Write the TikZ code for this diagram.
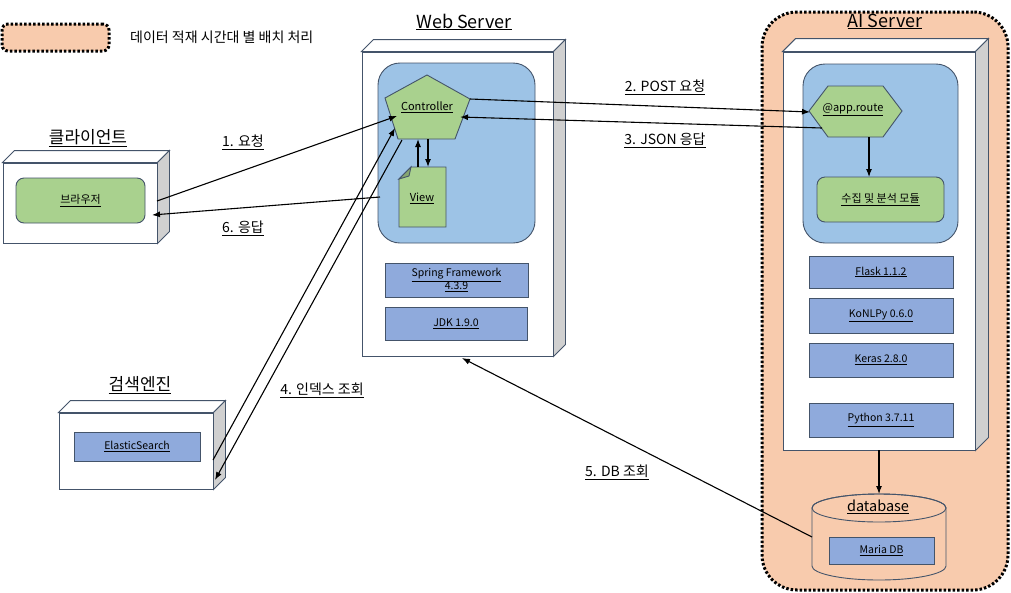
\documentclass[tikz,border=0pt]{standalone}
\usepackage{fontspec}
\setmainfont{Noto Sans CJK KR}
\usetikzlibrary{arrows.meta}
\definecolor{orng}{HTML}{F8CBAD}
\definecolor{lblue}{HTML}{9DC3E6}
\definecolor{lgreen}{HTML}{A9D18E}
\definecolor{cblue}{HTML}{8FAADC}
\definecolor{sgray}{HTML}{D0D0D0}
\definecolor{edgec}{HTML}{44546A}
\newcommand{\fsz}[1]{\fontsize{#1}{\dimexpr #1pt*6/5\relax}\selectfont}
\newcommand{\uln}[1]{\underline{#1}}
\newcommand{\cubefaces}[2]{%
  \draw[edgeline, fill=white] (#1.north west) -- ++(#2,-#2) -- ([shift={(#2,-#2)}]#1.north east) -- (#1.north east) -- cycle;
  \draw[edgeline, fill=sgray] (#1.north east) -- ++(#2,-#2) -- ([shift={(#2,-#2)}]#1.south east) -- (#1.south east) -- cycle;
}
\begin{document}
\begin{tikzpicture}[x=1pt,y=-1pt,
  edgeline/.style={draw=edgec, line width=0.9pt},
  front/.style={edgeline, fill=white, inner sep=0pt},
  region/.style={edgeline, fill=lblue, rounded corners=22pt, inner sep=0pt},
  gbox/.style={edgeline, fill=lgreen, rounded corners=8pt, inner sep=0pt, font=\fsz{11}},
  comp/.style={edgeline, fill=cblue, inner sep=0pt, font=\fsz{10.5}, align=center},
  conn/.style={line width=1.1pt, -{Latex[length=8pt,width=6pt]}},
  lbl/.style={font=\fsz{14}, inner sep=0pt},
  title/.style={font=\fsz{18}, inner sep=0pt, anchor=base},
  ktitle/.style={font=\fsz{17}, inner sep=0pt},
  frame/.style={draw=black, line width=3pt, dash pattern=on 2.5pt off 2pt, fill=orng}
]
\useasboundingbox (0,0) rectangle (1011,592);

% legend
\node[frame, rounded corners=6pt, minimum width=107pt, minimum height=27pt, inner sep=0pt] (leg) at (55.5,37.5) {};
\node[font=\fsz{14}, anchor=west, inner sep=0pt] (legt) at (130,37.5) {데이터 적재 시간대 별 배치 처리};

% AI server frame
\node[frame, rounded corners=35pt, minimum width=246pt, minimum height=578pt, inner sep=0pt] (aif) at (885,301) {};

% AI box
\node[front, minimum width=192pt, minimum height=398pt] (ai) at (879,251) {};
\cubefaces{ai}{13}
\node[title] (ait) at (885,27) {\uln{AI Server}};
\node[region, minimum width=155pt, minimum height=179pt] (aiin) at (880.5,153.5) {};
\draw[edgeline, fill=lgreen] (809,111) -- (828,86) -- (883,86) -- (902,111) -- (883,137) -- (828,137) -- cycle;
\node[font=\fsz{11}, inner sep=0pt] (hex) at (853,110) {\uln{@app.route}};
\node[gbox, minimum width=127pt, minimum height=45pt] (mod) at (880.5,199.5) {\uln{수집 및 분석 모듈}};
\node[comp, minimum width=144pt, minimum height=32pt] (flask) at (881,272) {\uln{Flask 1.1.2}};
\node[comp, minimum width=144pt, minimum height=35pt] (konl) at (881,315.5) {\uln{KoNLPy 0.6.0}};
\node[comp, minimum width=144pt, minimum height=34pt] (keras) at (881,360) {\uln{Keras 2.8.0}};
\node[comp, minimum width=144pt, minimum height=34pt] (py) at (881,420) {\uln{Python 3.7.11}};

% database
\draw[edgeline, fill=orng] (812,508) -- (812,566) arc[start angle=180, end angle=360, x radius=67pt, y radius=14pt] -- (946,508) arc[start angle=0, end angle=180, x radius=67pt, y radius=14pt] -- cycle;
\draw[edgeline] (879,508) ellipse[x radius=67pt, y radius=14pt];
\node[font=\fsz{14.5}, inner sep=0pt] (db) at (878,507) {\uln{database}};
\node[comp, minimum width=105pt, minimum height=27pt] (maria) at (881.5,550.5) {\uln{Maria DB}};
\coordinate (dbT) at (879,494);
\coordinate (dbL) at (812,537);

% Web server
\node[front, minimum width=191pt, minimum height=304pt] (ws) at (457.5,204) {};
\cubefaces{ws}{12}
\node[title] (wst) at (464,28) {\uln{Web Server}};
\node[region, minimum width=157pt, minimum height=180pt] (wsin) at (456.5,153) {};
\draw[edgeline, fill=lgreen] (427,75) -- (470,99) -- (455,139) -- (398,139) -- (385,98) -- cycle;
\node[font=\fsz{11}, inner sep=0pt] (ctrl) at (427,107) {\uln{Controller}};
\draw[edgeline, fill=lgreen] (411,167) -- (446,167) -- (446,227) -- (399,227) -- (399,179) -- cycle;
\draw[edgeline, fill=lgreen!80!black] (399,179) -- (409,176) -- (411,167) -- cycle;
\node[font=\fsz{11}, inner sep=0pt] (view) at (422,198) {\uln{View}};
\node[comp, minimum width=143pt, minimum height=34pt] (spring) at (456.5,280) {\uln{Spring Framework}\\\uln{4.3.9}};
\node[comp, minimum width=142pt, minimum height=33pt] (jdk) at (456,323.5) {\uln{JDK 1.9.0}};
\coordinate (wsB) at (462,358);

% client
\node[front, minimum width=154pt, minimum height=80pt] (cl) at (80,203) {};
\cubefaces{cl}{12}
\node[ktitle] (clt) at (88,138) {\uln{클라이언트}};
\node[gbox, minimum width=129pt, minimum height=45pt] (brw) at (80.5,200.5) {\uln{브라우저}};

% search engine
\node[front, minimum width=154pt, minimum height=76pt] (se) at (136,451) {};
\cubefaces{se}{12}
\node[ktitle] (set) at (140,385) {\uln{검색엔진}};
\node[comp, minimum width=126pt, minimum height=29pt] (es) at (137,446.5) {\uln{ElasticSearch}};

% attachment points
\coordinate (clR) at (157,201);
\coordinate (clT) at (152,215);
\coordinate (ctrlA) at (397,116);
\coordinate (ctrlB) at (395,128);
\coordinate (ctrlC) at (402,140);
\coordinate (ctrlR) at (470,99);
\coordinate (ctrlD) at (460,117);
\coordinate (wsL) at (380,197);
\coordinate (seA) at (213,460);
\coordinate (seB) at (215,480);
\coordinate (hexL) at (810,112);
\coordinate (hexC) at (822,128);
\coordinate (hexB) at (869,137);
\coordinate (modT) at (869,177);
\coordinate (vU1) at (418,167);
\coordinate (vU2) at (418,139);
\coordinate (vD1) at (428,139);
\coordinate (vD2) at (428,167);

% connectors
\draw[conn] (clR) -- (ctrlA);
\draw[conn] (wsL) -- (clT);
\draw[conn] (seA) -- (ctrlB);
\draw[conn] (ctrlC) -- (seB);
\draw[conn] (ctrlR) -- (hexL);
\draw[conn] (hexC) -- (ctrlD);
\draw[conn] (hexB) -- (modT);
\draw[conn] (vU1) -- (vU2);
\draw[conn] (vD1) -- (vD2);
\draw[conn] (ai.south) -- (dbT);
\draw[conn] (dbL) -- (wsB);

% labels
\node[lbl] (l1) at (243,142) {\uln{1. 요청}};
\node[lbl] (l6) at (243,228) {\uln{6. 응답}};
\node[lbl] (l2) at (665,87) {\uln{2. POST 요청}};
\node[lbl] (l3) at (665,140) {\uln{3. JSON 응답}};
\node[lbl] (l4) at (322,390) {\uln{4. 인덱스 조회}};
\node[lbl] (l5) at (617,472) {\uln{5. DB 조회}};
\end{tikzpicture}
\end{document}
